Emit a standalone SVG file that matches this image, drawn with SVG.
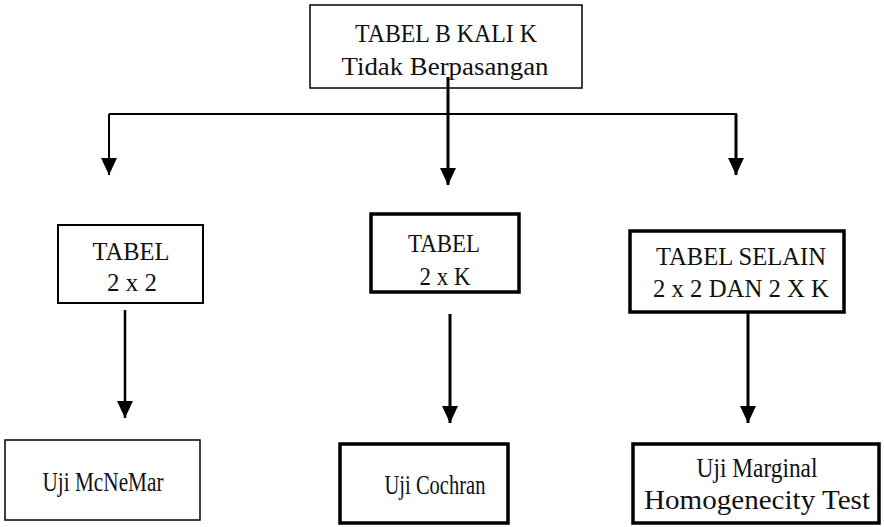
<svg xmlns="http://www.w3.org/2000/svg" width="884" height="527" viewBox="0 0 884 527">
<defs>
<style>
text{font-family:"Liberation Serif","Times New Roman",serif;font-size:25px;fill:#111;text-anchor:middle}
.big{font-size:28px}
.box{fill:#fff;stroke:#000}
.thin{stroke-width:1.5}
.thick{stroke-width:3.5}
.ln{stroke:#000;fill:none}
</style>
<marker id="ah" markerUnits="userSpaceOnUse" markerWidth="17" markerHeight="16" refX="17" refY="8" orient="auto" viewBox="0 0 17 16">
<path d="M0,0 L17,8 L0,16 z" fill="#000"/>
</marker>
</defs>
<g id="n-top">
<rect class="box thin" x="310" y="5" width="272" height="83"/>
<text x="446" y="42" textLength="182" lengthAdjust="spacingAndGlyphs">TABEL B KALI K</text>
<text x="445" y="75" textLength="207" lengthAdjust="spacingAndGlyphs">Tidak Berpasangan</text>
</g>
<g id="n-2x2">
<rect class="box" stroke-width="2" x="58" y="225" width="145" height="78"/>
<text x="131" y="260" textLength="77" lengthAdjust="spacingAndGlyphs">TABEL</text>
<text x="132" y="291" textLength="50" lengthAdjust="spacingAndGlyphs">2 x 2</text>
</g>
<g id="n-2xk">
<rect class="box thick" x="371" y="214" width="148" height="78"/>
<text x="444" y="252" textLength="72" lengthAdjust="spacingAndGlyphs">TABEL</text>
<text x="445" y="285" textLength="51" lengthAdjust="spacingAndGlyphs">2 x K</text>
</g>
<g id="n-selain">
<rect class="box thick" x="630" y="231" width="214" height="81"/>
<text x="741" y="265" textLength="170" lengthAdjust="spacingAndGlyphs">TABEL SELAIN</text>
<text x="741" y="297" textLength="176" lengthAdjust="spacingAndGlyphs">2 x 2 DAN 2 X K</text>
</g>
<g id="n-mcnemar">
<rect class="box thin" x="5" y="440" width="195" height="80"/>
<text class="big" x="103" y="491" textLength="121" lengthAdjust="spacingAndGlyphs">Uji McNeMar</text>
</g>
<g id="n-cochran">
<rect class="box thick" x="340" y="444" width="168" height="79"/>
<text class="big" x="435" y="494" textLength="101" lengthAdjust="spacingAndGlyphs">Uji Cochran</text>
</g>
<g id="n-marginal">
<rect class="box thick" x="633" y="444" width="246" height="79"/>
<text class="big" x="757" y="477" textLength="121" lengthAdjust="spacingAndGlyphs">Uji Marginal</text>
<text class="big" x="757" y="509" textLength="226" lengthAdjust="spacingAndGlyphs">Homogenecity Test</text>
</g>
<g id="connectors">
<line class="ln" x1="109" y1="114" x2="737" y2="114" stroke="#444" stroke-width="2"/>
<line class="ln" x1="448" y1="77" x2="448" y2="185" stroke-width="3" marker-end="url(#ah)"/>
<line class="ln" x1="109" y1="114" x2="109" y2="175" stroke-width="2" marker-end="url(#ah)"/>
<line class="ln" x1="736" y1="114" x2="736" y2="175" stroke-width="3" marker-end="url(#ah)"/>
<line class="ln" x1="125" y1="310" x2="125" y2="418" stroke-width="2.5" marker-end="url(#ah)"/>
<line class="ln" x1="450" y1="314" x2="450" y2="423" stroke-width="3" marker-end="url(#ah)"/>
<line class="ln" x1="748" y1="312" x2="748" y2="423" stroke-width="3" marker-end="url(#ah)"/>
</g>
</svg>
